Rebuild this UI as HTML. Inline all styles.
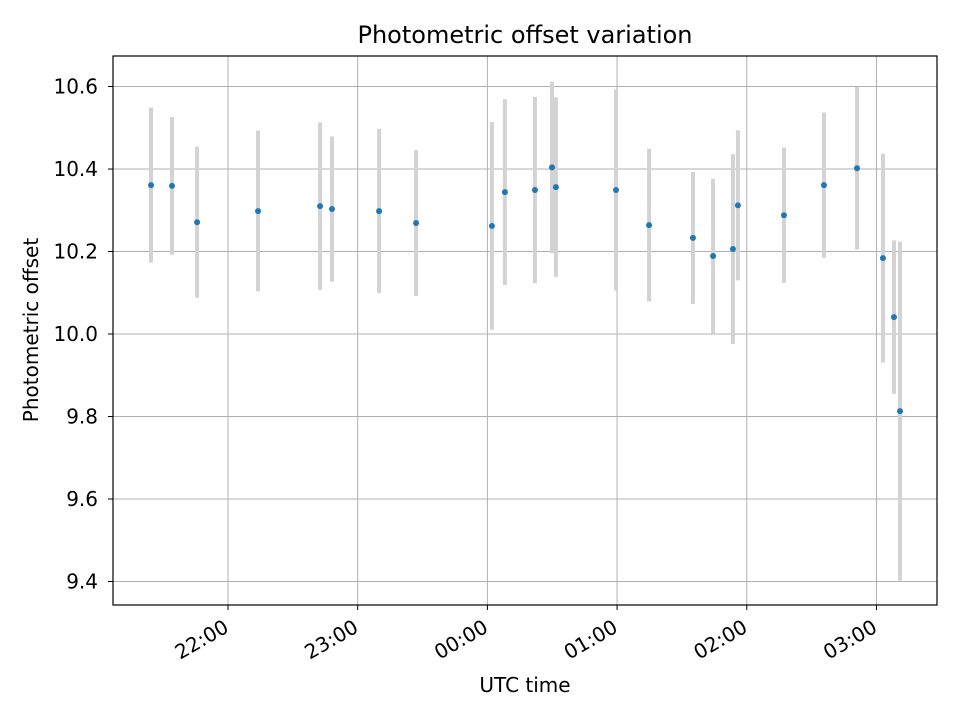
<!DOCTYPE html>
<html><head><meta charset="utf-8"><style>
html,body{margin:0;padding:0;background:#fff;}
svg text{font-family:"DejaVu Sans","Liberation Sans",sans-serif;fill:#000;}
</style></head><body>
<svg id="chart" width="960" height="720" xmlns="http://www.w3.org/2000/svg">
<rect width="960" height="720" fill="#fff"/>
<g id="grid"></g>
<g id="errs"></g>
<g id="pts"></g>
<rect x="113" y="56" width="824" height="549" fill="none" stroke="#000" stroke-width="1.2"/>
<g id="axes"></g>
<text x="525" y="43" font-size="24" text-anchor="middle">Photometric offset variation</text>
<text x="525" y="692" font-size="20" text-anchor="middle">UTC time</text>
<text x="38" y="330" font-size="20" text-anchor="middle" transform="rotate(-90,38,330)">Photometric offset</text>
</svg>
<script>
// minutes relative to 22:00 UTC
const times = [-35.6,-25.9,-14.3,13.9,42.6,48.1,69.9,87.0,122.1,128.1,142.0,149.9,151.7,179.5,194.8,215.1,224.4,233.6,235.9,257.2,275.7,291.0,303.0,308.1,310.9];
const offsets = [10.361,10.359,10.271,10.298,10.310,10.303,10.298,10.269,10.262,10.344,10.349,10.404,10.356,10.349,10.264,10.233,10.189,10.206,10.312,10.288,10.361,10.402,10.184,10.041,9.813];
const errors = [0.188,0.167,0.183,0.195,0.203,0.176,0.199,0.177,0.252,0.225,0.226,0.208,0.218,0.244,0.185,0.160,0.187,0.230,0.182,0.164,0.176,0.197,0.253,0.186,0.411];
const xTickVals = [0,60,120,180,240,300];
const xTickLabels = ["22:00","23:00","00:00","01:00","02:00","03:00"];
const yTickVals = [9.4,9.6,9.8,10.0,10.2,10.4,10.6];
const yTickLabels = ["9.4","9.6","9.8","10.0","10.2","10.4","10.6"];

const L=113,R=937,T=56,B=605;
const xMin=-53.2,xMax=328.0,yMin=9.343,yMax=10.674;
const xs=v=>L+(v-xMin)/(xMax-xMin)*(R-L);
const ys=v=>B-(v-yMin)/(yMax-yMin)*(B-T);
const NS="http://www.w3.org/2000/svg";
function mk(tag,parent,attrs){const e=document.createElementNS(NS,tag);for(const k in attrs)e.setAttribute(k,attrs[k]);document.getElementById(parent).appendChild(e);return e;}

xTickVals.forEach((v,i)=>{
  const x=xs(v);
  const g=mk('line','grid',{x1:x,x2:x,y1:T,y2:B,stroke:'#b0b0b0','stroke-width':1});
  
  
  const t=mk('line','axes',{x1:x,x2:x,y1:B,y2:B+5,stroke:'#000','stroke-width':1});
  
  
  const lb=mk('text','axes',{x:x+2,y:B+26,'font-size':20,'text-anchor':'end',transform:`rotate(-30,${x+2},${B+26})`});
  lb.textContent=xTickLabels[i];
  
  
});
yTickVals.forEach((v,i)=>{
  const y=ys(v);
  const g=mk('line','grid',{x1:L,x2:R,y1:y,y2:y,stroke:'#b0b0b0','stroke-width':1});
  
  
  const t=mk('line','axes',{x1:L-5,x2:L,y1:y,y2:y,stroke:'#000','stroke-width':1});
  
  
  const lb=mk('text','axes',{x:L-15,y:y+7,'font-size':20,'text-anchor':'end'});
  lb.textContent=yTickLabels[i];
  
  
});
times.forEach((tm,i)=>{
  const x=xs(tm);
  const e=mk('line','errs',{x1:x,x2:x,y1:ys(offsets[i]+errors[i]),y2:ys(offsets[i]-errors[i]),stroke:'#d3d3d3','stroke-width':4});
  
  
  const c=mk('circle','pts',{cx:x,cy:ys(offsets[i]),r:3,fill:'#1f77b4'});
  
  
});
</script>
</body></html>
